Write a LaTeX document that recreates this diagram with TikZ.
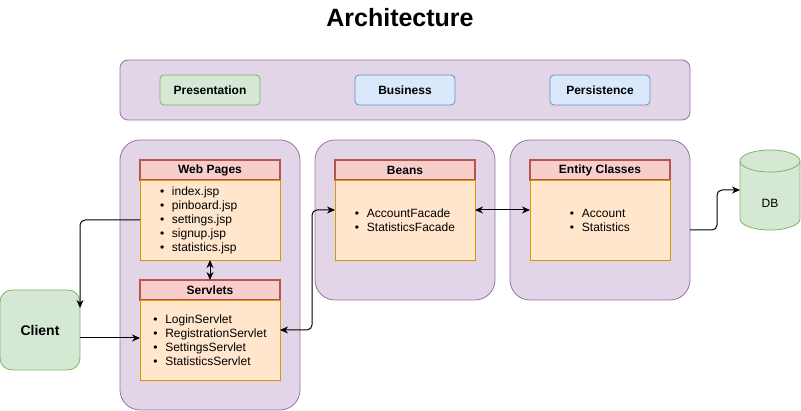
\documentclass[tikz,border=0pt]{standalone}
\usepackage{fontspec}
\setmainfont{Liberation Sans}
\usetikzlibrary{positioning,arrows.meta}
\definecolor{lilac}{HTML}{E1D5E7}
\definecolor{lilacline}{HTML}{9673A6}
\definecolor{mint}{HTML}{D5E8D4}
\definecolor{mintline}{HTML}{82B366}
\definecolor{sky}{HTML}{DAE8FC}
\definecolor{skyline}{HTML}{6C8EBF}
\definecolor{rose}{HTML}{F8CECC}
\definecolor{roseline}{HTML}{B85450}
\definecolor{peach}{HTML}{FFE6CC}
\definecolor{peachline}{HTML}{D79B00}
\newcommand{\itm}[1]{\makebox[12pt][l]{\textbullet}#1}

\begin{document}
\begin{tikzpicture}[x=1pt, y=-1pt, outer sep=0pt, line width=0.8pt,
    every node/.style={font=\fontsize{12}{14}\selectfont},
    panel/.style={draw=lilacline, fill=lilac, rounded corners=20pt, minimum width=180pt},
    layer/.style={rounded corners=4pt, minimum width=100pt, minimum height=30pt, font=\bfseries\fontsize{12}{14}\selectfont},
    head/.style={draw=roseline, fill=rose, line width=1.6pt, minimum width=140pt, minimum height=20pt, inner sep=0pt, font=\bfseries\fontsize{12}{14}\selectfont},
    body/.style={draw=peachline, fill=peach, minimum width=140pt, minimum height=80pt, inner sep=0pt, align=left},
    dbline/.style={draw=mintline, fill=mint},
    tip/.tip={Stealth[length=8pt,width=7pt,inset=2.5pt]},
    conn/.style={-tip, line width=1pt, rounded corners=5pt},
    twoway/.style={tip-tip, line width=1pt, rounded corners=5pt}]
  \useasboundingbox (0,0) rectangle (801,411);

  \node[font=\bfseries\fontsize{25}{28}\selectfont] (title) at (400,18) {Architecture};

  % layers bar
  \node[panel, rounded corners=8pt, minimum width=570pt, minimum height=60pt] (bar) at (405,90) {};
  \node[layer, draw=mintline, fill=mint, right=40pt of bar.west] (pres) {Presentation};
  \node[layer, draw=skyline, fill=sky] (bus) at (bar) {Business};
  \node[layer, draw=skyline, fill=sky, left=40pt of bar.east] (pers) {Persistence};

  % tiers
  \node[panel, minimum height=270pt] (pp) at (210,275) {};
  \node[panel, minimum height=160pt] (bp) at (405,220) {};
  \node[panel, minimum height=160pt] (ep) at (600,220) {};

  \node[head, below=20pt of pp.north] (wph) {Web Pages};
  \node[body, text width=100pt, below=0pt of wph] (wpb) {\itm{index.jsp}\\ \itm{pinboard.jsp}\\ \itm{settings.jsp}\\ \itm{signup.jsp}\\ \itm{statistics.jsp}};
  \node[head, below=20pt of wpb] (svh) {Servlets};
  \node[body, below=0pt of svh] (svb) {\itm{LoginServlet}\\ \itm{RegistrationServlet}\\ \itm{SettingsServlet}\\ \itm{StatisticsServlet}};

  \node[head, below=20pt of bp.north] (bnh) {Beans};
  \node[body, below=0pt of bnh] (bnb) {\itm{AccountFacade}\\ \itm{StatisticsFacade}};

  \node[head, below=20pt of ep.north] (enh) {Entity Classes};
  \node[body, below=0pt of enh] (enb) {\itm{Account}\\ \itm{Statistics}};

  \node[draw=mintline, fill=mint, rounded corners=12pt, minimum width=80pt, minimum height=80pt, font=\bfseries\fontsize{14}{16}\selectfont] (cl) at (40,330) {Client};

  % database
  \node[minimum width=60pt, minimum height=80pt] (db) at (770,190) {};
  \path[dbline] ([yshift=-11pt]db.north west) -- ([yshift=11pt]db.south west)
    arc[start angle=180, end angle=360, x radius=30pt, y radius=11pt]
    -- ([yshift=-11pt]db.north east)
    arc[start angle=0, end angle=180, x radius=30pt, y radius=11pt] -- cycle;
  \draw[draw=mintline] ([yshift=-11pt]db.north west) arc[start angle=180, end angle=360, x radius=30pt, y radius=11pt];
  \node (dbtext) at ([yshift=-13pt]db.center) {DB};

  \coordinate (clin) at ([yshift=-18pt]cl.north east);
  \draw[conn] (wpb.west) -| (clin);
  \draw[conn] ([yshift=-8pt]cl.east) -- ([yshift=2pt]svb.west);
  \draw[twoway] (wpb.south) -- (svh.north);
  \draw[twoway] ([yshift=10pt]svb.east) -- ++(32,0) |- ([yshift=10pt]bnb.west);
  \draw[twoway] ([yshift=10pt]bnb.east) -- ([yshift=10pt]enb.west);
  \draw[conn] ([yshift=-10pt]ep.east) -- ++(27,0) |- (db.west);
\end{tikzpicture}
\end{document}
